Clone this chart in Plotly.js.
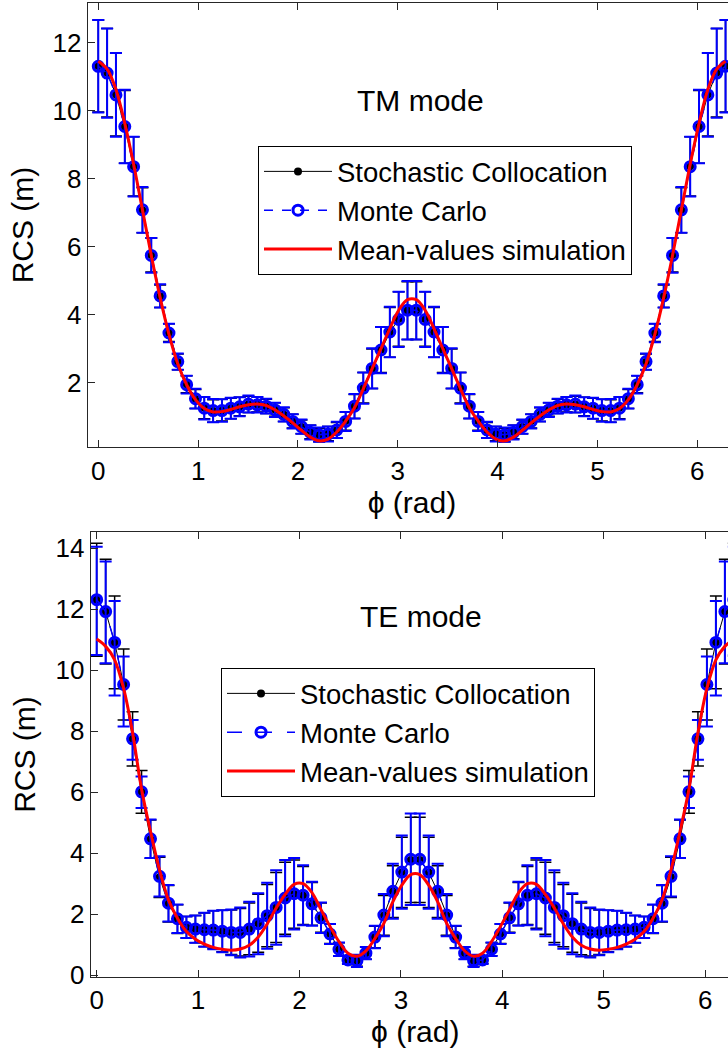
<!DOCTYPE html>
<html>
<head>
<meta charset="utf-8">
<script src="https://cdn.plot.ly/plotly-3.0.1.min.js"></script>
<style>
html, body { margin: 0; padding: 0; overflow: hidden; background: #fff; }
#chart { width: 760px; height: 1055px; }
</style>
</head>
<body>
<div id="chart"></div>
<script>
// Angle samples (rad), 72 points from 0 to 2*pi
const phi = [0, 0.0885, 0.1770, 0.2655, 0.3540, 0.4425, 0.5310, 0.6195, 0.7080, 0.7965, 0.8850, 0.9735,
  1.0619, 1.1504, 1.2389, 1.3274, 1.4159, 1.5044, 1.5929, 1.6814, 1.7699, 1.8584, 1.9469, 2.0354,
  2.1239, 2.2124, 2.3009, 2.3894, 2.4779, 2.5664, 2.6549, 2.7434, 2.8319, 2.9204, 3.0089, 3.0973,
  3.1858, 3.2743, 3.3628, 3.4513, 3.5398, 3.6283, 3.7168, 3.8053, 3.8938, 3.9823, 4.0708, 4.1593,
  4.2478, 4.3363, 4.4248, 4.5133, 4.6018, 4.6903, 4.7788, 4.8673, 4.9558, 5.0442, 5.1327, 5.2212,
  5.3097, 5.3982, 5.4867, 5.5752, 5.6637, 5.7522, 5.8407, 5.9292, 6.0177, 6.1062, 6.1947, 6.2832];

// ---- TM mode ----
const tmSC = [11.31, 11.11, 10.47, 9.52, 8.36, 7.07, 5.75, 4.54, 3.47, 2.61, 1.95, 1.52,
  1.26, 1.17, 1.19, 1.24, 1.30, 1.36, 1.36, 1.30, 1.21, 1.06, 0.87, 0.70,
  0.55, 0.46, 0.50, 0.60, 0.87, 1.30, 1.85, 2.41, 2.97, 3.48, 3.87, 4.12,
  4.12, 3.87, 3.48, 2.97, 2.41, 1.85, 1.30, 0.87, 0.60, 0.50, 0.46, 0.55,
  0.70, 0.87, 1.06, 1.21, 1.30, 1.36, 1.36, 1.30, 1.24, 1.19, 1.17, 1.26,
  1.52, 1.95, 2.61, 3.47, 4.54, 5.75, 7.07, 8.36, 9.52, 10.47, 11.11, 11.31];
const tmSCerr = [1.35, 1.30, 1.22, 1.07, 0.87, 0.66, 0.50, 0.33, 0.26, 0.23, 0.25, 0.28,
  0.32, 0.33, 0.32, 0.30, 0.27, 0.24, 0.22, 0.21, 0.20, 0.20, 0.20, 0.20,
  0.20, 0.20, 0.21, 0.23, 0.27, 0.35, 0.45, 0.58, 0.67, 0.73, 0.80, 0.85,
  0.85, 0.80, 0.73, 0.67, 0.58, 0.45, 0.35, 0.27, 0.23, 0.21, 0.20, 0.20,
  0.20, 0.20, 0.20, 0.20, 0.21, 0.22, 0.24, 0.27, 0.30, 0.32, 0.33, 0.32,
  0.28, 0.25, 0.23, 0.26, 0.33, 0.50, 0.66, 0.87, 1.07, 1.22, 1.30, 1.35];
const tmMC = [11.30, 11.10, 10.46, 9.53, 8.35, 7.08, 5.74, 4.55, 3.46, 2.62, 1.94, 1.53,
  1.25, 1.18, 1.18, 1.25, 1.29, 1.37, 1.35, 1.31, 1.20, 1.07, 0.86, 0.71,
  0.54, 0.47, 0.49, 0.61, 0.86, 1.31, 1.84, 2.42, 2.96, 3.49, 3.86, 4.13,
  4.13, 3.86, 3.49, 2.96, 2.42, 1.84, 1.31, 0.86, 0.61, 0.49, 0.47, 0.54,
  0.71, 0.86, 1.07, 1.20, 1.31, 1.35, 1.37, 1.29, 1.25, 1.18, 1.18, 1.25,
  1.53, 1.94, 2.62, 3.46, 4.55, 5.74, 7.08, 8.35, 9.53, 10.46, 11.10, 11.30];
const tmMCerr = [1.36, 1.31, 1.23, 1.08, 0.88, 0.67, 0.51, 0.34, 0.27, 0.24, 0.26, 0.29,
  0.33, 0.34, 0.33, 0.31, 0.28, 0.25, 0.23, 0.22, 0.21, 0.21, 0.21, 0.21,
  0.21, 0.21, 0.22, 0.24, 0.28, 0.36, 0.46, 0.59, 0.68, 0.74, 0.81, 0.86,
  0.86, 0.81, 0.74, 0.68, 0.59, 0.46, 0.36, 0.28, 0.24, 0.22, 0.21, 0.21,
  0.21, 0.21, 0.21, 0.21, 0.22, 0.23, 0.25, 0.28, 0.31, 0.33, 0.34, 0.33,
  0.29, 0.26, 0.24, 0.27, 0.34, 0.51, 0.67, 0.88, 1.08, 1.23, 1.31, 1.36];
const tmMean = [11.45, 11.22, 10.62, 9.62, 8.42, 7.08, 5.74, 4.50, 3.42, 2.55, 1.94, 1.50,
  1.24, 1.14, 1.15, 1.21, 1.29, 1.35, 1.37, 1.33, 1.20, 1.02, 0.82, 0.60,
  0.40, 0.29, 0.34, 0.55, 0.87, 1.26, 1.82, 2.41, 3.00, 3.59, 4.13, 4.44,
  4.44, 4.13, 3.59, 3.00, 2.41, 1.82, 1.26, 0.87, 0.55, 0.34, 0.29, 0.40,
  0.60, 0.82, 1.02, 1.20, 1.33, 1.37, 1.35, 1.29, 1.21, 1.15, 1.14, 1.24,
  1.50, 1.94, 2.55, 3.42, 4.50, 5.74, 7.08, 8.42, 9.62, 10.62, 11.22, 11.45];

// ---- TE mode ----
const teSC = [12.31, 11.92, 10.91, 9.53, 7.75, 6.01, 4.46, 3.21, 2.34, 1.84, 1.57, 1.51,
  1.49, 1.49, 1.45, 1.41, 1.41, 1.52, 1.70, 1.95, 2.22, 2.52, 2.66, 2.61,
  2.34, 1.89, 1.36, 0.85, 0.50, 0.47, 0.72, 1.25, 1.96, 2.74, 3.37, 3.78,
  3.78, 3.37, 2.74, 1.96, 1.25, 0.72, 0.47, 0.50, 0.85, 1.36, 1.89, 2.34,
  2.61, 2.66, 2.52, 2.22, 1.95, 1.70, 1.52, 1.41, 1.41, 1.45, 1.49, 1.49,
  1.51, 1.57, 1.84, 2.34, 3.21, 4.46, 6.01, 7.75, 9.53, 10.91, 11.92, 12.31];
const teSCerr = [1.85, 1.72, 1.52, 1.16, 0.89, 0.70, 0.63, 0.66, 0.60, 0.47, 0.35, 0.45,
  0.55, 0.62, 0.68, 0.73, 0.78, 0.85, 0.95, 1.02, 1.15, 1.18, 1.12, 0.95,
  0.70, 0.48, 0.32, 0.21, 0.12, 0.18, 0.20, 0.35, 0.65, 0.85, 1.15, 1.40,
  1.40, 1.15, 0.85, 0.65, 0.35, 0.20, 0.18, 0.12, 0.21, 0.32, 0.48, 0.70,
  0.95, 1.12, 1.18, 1.15, 1.02, 0.95, 0.85, 0.78, 0.73, 0.68, 0.62, 0.55,
  0.45, 0.35, 0.47, 0.60, 0.66, 0.63, 0.70, 0.89, 1.16, 1.52, 1.72, 1.85];
const teMC = [12.31, 11.92, 10.91, 9.53, 7.75, 6.01, 4.47, 3.24, 2.36, 1.85, 1.57, 1.51,
  1.49, 1.48, 1.44, 1.40, 1.40, 1.51, 1.69, 1.95, 2.22, 2.53, 2.67, 2.62,
  2.34, 1.88, 1.35, 0.85, 0.50, 0.47, 0.72, 1.25, 1.97, 2.75, 3.38, 3.80,
  3.80, 3.38, 2.75, 1.97, 1.25, 0.72, 0.47, 0.50, 0.85, 1.35, 1.88, 2.34,
  2.62, 2.67, 2.53, 2.22, 1.95, 1.69, 1.51, 1.40, 1.40, 1.44, 1.48, 1.49,
  1.51, 1.57, 1.85, 2.36, 3.24, 4.47, 6.01, 7.75, 9.53, 10.91, 11.92, 12.31];
const teMCerrPlus = [1.74, 1.64, 1.36, 0.92, 0.62, 0.50, 0.63, 0.66, 0.60, 0.47, 0.35, 0.45,
  0.56, 0.63, 0.69, 0.75, 0.82, 0.90, 1.00, 1.08, 1.22, 1.25, 1.17, 0.98,
  0.72, 0.50, 0.33, 0.22, 0.13, 0.20, 0.20, 0.37, 0.69, 0.90, 1.20, 1.50,
  1.50, 1.20, 0.90, 0.69, 0.37, 0.20, 0.20, 0.13, 0.22, 0.33, 0.50, 0.72,
  0.98, 1.17, 1.25, 1.22, 1.08, 1.00, 0.90, 0.82, 0.75, 0.69, 0.63, 0.56,
  0.45, 0.35, 0.47, 0.60, 0.66, 0.63, 0.50, 0.62, 0.92, 1.36, 1.64, 1.74];
const teMCerrMinus = [1.81, 1.69, 1.74, 1.38, 0.69, 0.53, 0.63, 0.66, 0.60, 0.47, 0.35, 0.45,
  0.56, 0.63, 0.69, 0.75, 0.82, 0.90, 1.00, 1.08, 1.22, 1.25, 1.17, 0.98,
  0.72, 0.50, 0.33, 0.22, 0.13, 0.20, 0.20, 0.37, 0.69, 0.90, 1.20, 1.50,
  1.50, 1.20, 0.90, 0.69, 0.37, 0.20, 0.20, 0.13, 0.22, 0.33, 0.50, 0.72,
  0.98, 1.17, 1.25, 1.22, 1.08, 1.00, 0.90, 0.82, 0.75, 0.69, 0.63, 0.56,
  0.45, 0.35, 0.47, 0.60, 0.66, 0.63, 0.53, 0.69, 1.38, 1.74, 1.69, 1.81];
const teMean = [11.02, 10.78, 10.34, 9.40, 7.95, 6.10, 4.71, 3.45, 2.47, 1.87, 1.43, 1.18,
  1.02, 0.91, 0.85, 0.82, 0.86, 0.98, 1.25, 1.68, 2.20, 2.65, 2.98, 3.00,
  2.70, 2.15, 1.60, 1.10, 0.72, 0.62, 0.80, 1.20, 1.70, 2.40, 2.95, 3.30,
  3.30, 2.95, 2.40, 1.70, 1.20, 0.80, 0.62, 0.72, 1.10, 1.60, 2.15, 2.70,
  3.00, 2.98, 2.65, 2.20, 1.68, 1.25, 0.98, 0.86, 0.82, 0.85, 0.91, 1.02,
  1.18, 1.43, 1.87, 2.47, 3.45, 4.71, 6.10, 7.95, 9.40, 10.34, 10.78, 11.02];

const seriesNames = ['Stochastic Collocation', 'Monte Carlo', 'Mean-values simulation'];
const modeLabels = ['TM mode', 'TE mode'];
const xTicks = [0, 1, 2, 3, 4, 5, 6];
const yTicksTop = [2, 4, 6, 8, 10, 12];
const yTicksBottom = [0, 2, 4, 6, 8, 10, 12, 14];

const FONT = 'Arial, "Liberation Sans", Helvetica, sans-serif';
const W = 760, H = 1055;

function panel(sc, scErr, mc, mcErrP, mcErrM, mean, xa, ya, leg, mcDash) {
  return [
    {
      x: phi, y: sc, xaxis: xa, yaxis: ya, legend: leg,
      name: seriesNames[0], type: 'scatter', mode: 'lines+markers',
      line: {color: '#000000', width: 1},
      marker: {color: '#000000', size: 8, symbol: 'circle'},
      error_y: {type: 'data', array: scErr, visible: true, color: '#000000', thickness: 1.5, width: 6}
    },
    {
      x: phi, y: mc, xaxis: xa, yaxis: ya, legend: leg,
      name: seriesNames[1], type: 'scatter', mode: 'lines+markers',
      line: {color: '#0000ff', width: 1.5, dash: mcDash},
      marker: {symbol: 'circle-open', color: '#0000ff', size: 10, line: {color: '#0000ff', width: 3}},
      error_y: {type: 'data', symmetric: false, array: mcErrP, arrayminus: mcErrM, visible: true,
                color: '#0000ff', thickness: 2, width: 6}
    },
    {
      x: phi, y: mean, xaxis: xa, yaxis: ya, legend: leg,
      name: seriesNames[2], type: 'scatter', mode: 'lines',
      line: {color: '#ff0000', width: 3, shape: 'spline', smoothing: 1}
    }
  ];
}

const data = [].concat(
  panel(tmSC, tmSCerr, tmMC, tmMCerr, tmMCerr, tmMean, 'x', 'y', 'legend', 'dash'),
  panel(teSC, teSCerr, teMC, teMCerrPlus, teMCerrMinus, teMean, 'x2', 'y2', 'legend2', 'longdash')
);

function axisStyle(extra) {
  return Object.assign({
    showline: true, linecolor: '#262626', linewidth: 1, mirror: 'ticks',
    ticks: 'inside', ticklen: 7, tickwidth: 1, tickcolor: '#262626',
    showgrid: false, zeroline: false,
    tickfont: {family: FONT, size: 26, color: '#000'}
  }, extra);
}

const layout = {
  width: W, height: H,
  margin: {l: 0, r: 0, t: 0, b: 0},
  paper_bgcolor: '#fff', plot_bgcolor: '#fff',
  font: {family: FONT, color: '#000'},
  showlegend: true,
  xaxis: axisStyle({
    domain: [87.7 / W, 736.2 / W], range: [-0.106, 6.39], anchor: 'y',
    tickvals: xTicks,
    title: {text: 'ϕ (rad)', font: {family: FONT, size: 30, color: '#000'}, standoff: 4}
  }),
  yaxis: axisStyle({
    domain: [1 - 447.3 / H, 1 - 2.7 / H], range: [0.1, 13.17], anchor: 'x',
    tickvals: yTicksTop,
    title: {text: 'RCS (m)', font: {family: FONT, size: 30, color: '#000'}, standoff: 10}
  }),
  xaxis2: axisStyle({
    domain: [90.6 / W, 739.9 / W], range: [-0.06, 6.343], anchor: 'y2',
    tickvals: xTicks,
    title: {text: 'ϕ (rad)', font: {family: FONT, size: 30, color: '#000'}, standoff: 6}
  }),
  yaxis2: axisStyle({
    domain: [1 - 976.7 / H, 1 - 532.3 / H], range: [-0.05, 14.52], anchor: 'x2',
    tickvals: yTicksBottom,
    title: {text: 'RCS (m)', font: {family: FONT, size: 30, color: '#000'}, standoff: 10}
  }),
  legend: {
    x: 258 / W, y: 1 - 146 / H, xanchor: 'left', yanchor: 'top',
    bgcolor: '#fff', bordercolor: '#000', borderwidth: 1,
    font: {family: FONT, size: 27.5, color: '#000'}, itemwidth: 68, tracegroupgap: 0
  },
  legend2: {
    x: 221 / W, y: 1 - 668 / H, xanchor: 'left', yanchor: 'top',
    bgcolor: '#fff', bordercolor: '#000', borderwidth: 1,
    font: {family: FONT, size: 27.5, color: '#000'}, itemwidth: 68, tracegroupgap: 0
  },
  annotations: [
    {text: modeLabels[0], xref: 'x', yref: 'y', x: 3.23, y: 10.3, showarrow: false,
     font: {family: FONT, size: 30, color: '#000'}},
    {text: modeLabels[1], xref: 'x2', yref: 'y2', x: 3.2, y: 11.75, showarrow: false,
     font: {family: FONT, size: 30, color: '#000'}}
  ]
};

Plotly.newPlot('chart', data, layout, {displayModeBar: false, staticPlot: true});
</script>
</body>
</html>
